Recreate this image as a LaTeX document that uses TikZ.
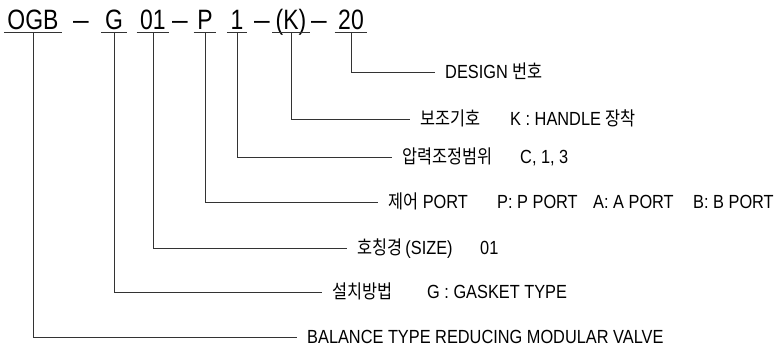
\documentclass[tikz,border=0pt]{standalone}
\usepackage{fontspec}
\setmainfont{Liberation Sans}[FakeStretch=0.86]
\newfontfamily\codefont{Liberation Sans}[FakeStretch=0.82]
\newfontfamily\kr{Noto Sans CJK KR}[FakeStretch=0.86]
\begin{document}
\begin{tikzpicture}[x=1pt,y=-1pt,
	kode/.style={anchor=base,inner xsep=3.5pt,inner ysep=2pt,text depth=0pt,font=\codefont\fontsize{28}{28}\selectfont},
	lbl/.style={anchor=west,inner xsep=10pt,inner ysep=0pt,text height=13.6pt,text depth=0pt,font=\fontsize{19}{19}\selectfont},
	sub/.style={lbl,inner xsep=0pt},
	bar/.style={line width=0.8pt,black!80}]
	\useasboundingbox (0,0) rectangle (776,347);
	% Kurzzeichen
	\node [kode] (ogb) at (33,30) {OGB};
	\node [kode] (g) at (114,30) {G};
	\node [kode] (size) at (153,30) {01};
	\node [kode] (port) at (205,30) {P};
	\node [kode] (press) at (237,30) {1};
	\node [kode] (handle) at (291,30) {(K)};
	\node [kode] (design) at (351,30) {20};
	\foreach \x/\n in {81/s1,180/s2,262/s3,319/s4}
		\node [kode,inner xsep=0pt] (\n) at (\x,30) {\scalebox{0.68}[1]{—}};
	\foreach \n in {ogb,g,size,port,press,handle,design}
		\draw [bar] (\n.south west) -- (\n.south east);
	% Erklaerungen
	\node [lbl] (dsg) at (435,72) {DESIGN {\kr 번호}};
	\node [lbl] (hdl) at (410,119) {{\kr 보조기호}};
	\node [sub] (hdl2) at (510,119) {K : HANDLE {\kr 장착}};
	\node [lbl] (prs) at (392,157) {{\kr 압력조정범위}};
	\node [sub] (prs2) at (520,157) {C, 1, 3};
	\node [lbl] (prt) at (378,202) {{\kr 제어} PORT};
	\node [sub] (prt2) at (497,202) {P: P PORT};
	\node [sub] (prt3) at (593,202) {A: A PORT};
	\node [sub] (prt4) at (693,202) {B: B PORT};
	\node [lbl] (sz) at (347,248) {{\kr 호칭경}\,(SIZE)};
	\node [sub] (sz2) at (480,248) {01};
	\node [lbl] (mnt) at (322,292) {{\kr 설치방법}};
	\node [sub] (mnt2) at (427,292) {G : GASKET TYPE};
	\node [lbl] (bal) at (297,337) {BALANCE TYPE REDUCING MODULAR VALVE};
	% Linien
	\draw [bar] (design.south) |- (dsg.west);
	\draw [bar] (handle.south) |- (hdl.west);
	\draw [bar] (press.south) |- (prs.west);
	\draw [bar] (port.south) |- (prt.west);
	\draw [bar] (size.south) |- (sz.west);
	\draw [bar] (g.south) |- (mnt.west);
	\draw [bar] (ogb.south) |- (bal.west);
\end{tikzpicture}
\end{document}
